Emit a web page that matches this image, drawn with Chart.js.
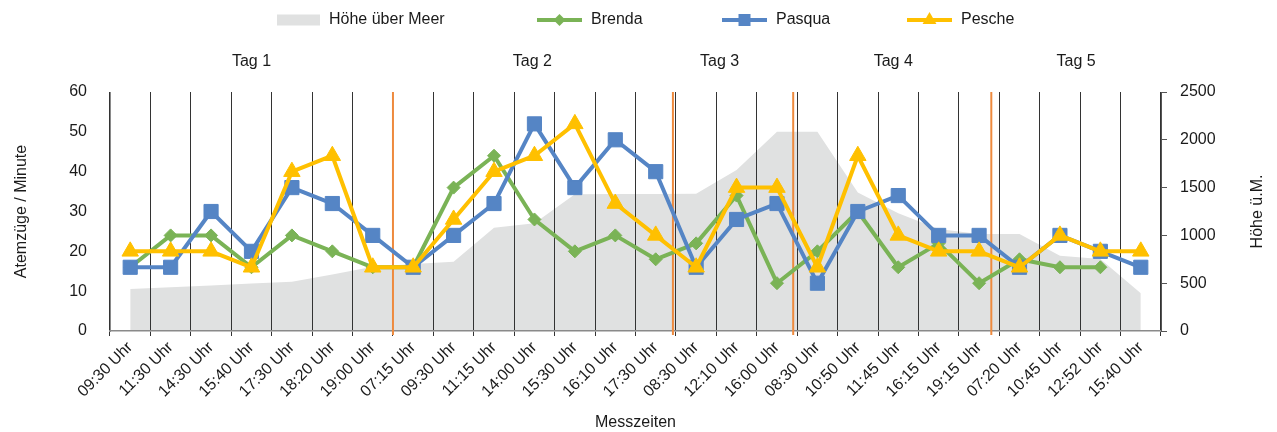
<!DOCTYPE html>
<html>
<head>
<meta charset="utf-8">
<script src="https://cdn.jsdelivr.net/npm/chart.js@4.4.1/dist/chart.umd.min.js"></script>
<style>
html,body{margin:0;padding:0;background:#fff;}
canvas{display:block;}
</style>
</head>
<body>
<canvas id="c" width="1277" height="432"></canvas>
<script>
// ---------- data ----------
const categories = ['09:30 Uhr','11:30 Uhr','14:30 Uhr','15:40 Uhr','17:30 Uhr','18:20 Uhr','19:00 Uhr',
  '07:15 Uhr','09:30 Uhr','11:15 Uhr','14:00 Uhr','15:30 Uhr','16:10 Uhr','17:30 Uhr',
  '08:30 Uhr','12:10 Uhr','16:00 Uhr',
  '08:30 Uhr','10:50 Uhr','11:45 Uhr','16:15 Uhr','19:15 Uhr',
  '07:20 Uhr','10:45 Uhr','12:52 Uhr','15:40 Uhr'];
const hoehe  = [440,458,477,497,515,590,672,700,725,1080,1128,1430,1432,1433,1435,1684,2084,2084,1450,1232,1067,1015,1015,788,752,395];
const brenda = [16,24,24,16,24,20,16,16,36,44,28,20,24,18,22,34,12,20,30,16,22,12,18,16,16,null];
const pasqua = [16,16,30,20,36,32,24,16,24,32,52,36,48,40,16,28,32,12,30,34,24,24,16,24,20,16];
const pesche = [20,20,20,16,40,44,16,16,28,40,44,52,32,24,16,36,36,16,44,24,20,20,16,24,20,20];
const dayNames  = ['Tag 1','Tag 2','Tag 3','Tag 4','Tag 5'];
const dayStarts = [0,7,14,17,22];
const leftTicks  = [0,10,20,30,40,50,60];
const rightTicks = [0,500,1000,1500,2000,2500];
const seriesNames = ['Höhe über Meer','Brenda','Pasqua','Pesche'];

// ---------- styles ----------
const FONT = '"Liberation Sans", Arial, sans-serif';
const TXT = '#1a1a1a';
const C_AREA = '#E0E1E1', C_GREEN = '#7AB356', C_BLUE = '#5585C5', C_YELLOW = '#FFC000', C_ORANGE = '#EE8A3E';

Chart.defaults.font.family = FONT;
Chart.defaults.font.size = 16;
Chart.defaults.color = TXT;

const decor = {
  id: 'decor',
  beforeDatasetsDraw(chart, args, opts) {
    const {ctx, chartArea, scales: {x}} = chart;
    ctx.save();
    ctx.strokeStyle = C_ORANGE;
    ctx.lineWidth = 2;
    for (let d = 1; d < dayStarts.length; d++) {
      const i = dayStarts[d];
      const px = (x.getPixelForValue(i - 1) + x.getPixelForValue(i)) / 2 + opts.lineNudge[d - 1];
      ctx.beginPath();
      ctx.moveTo(px, chartArea.top);
      ctx.lineTo(px, chartArea.bottom + 4);
      ctx.stroke();
    }
    ctx.restore();
  },
  afterDraw(chart, args, opts) {
    const {ctx, chartArea, scales: {x}} = chart;
    ctx.save();
    ctx.fillStyle = TXT;
    ctx.font = '16px ' + FONT;
    ctx.textBaseline = 'middle';
    ctx.textAlign = 'center';
    // day labels
    for (let d = 0; d < dayNames.length; d++) {
      const first = dayStarts[d];
      const last = d + 1 < dayStarts.length ? dayStarts[d + 1] - 1 : categories.length - 1;
      const cx = (x.getPixelForValue(first) + x.getPixelForValue(last)) / 2 + opts.dayNudge[d];
      ctx.fillText(dayNames[d], cx, opts.dayY);
    }
    // right axis title
    ctx.save();
    ctx.translate(opts.rightTitleX, (chartArea.top + chartArea.bottom) / 2);
    ctx.rotate(-Math.PI / 2);
    ctx.fillText('Höhe ü.M.', 0, 0);
    ctx.restore();

    // legend
    const ly = opts.legendY;
    const ds = chart.data.datasets;
    [0, 1, 2, 3].forEach((di, k) => {
      const lx = opts.legendX[k];
      const d = ds[di];
      let w;
      if (di === 0) {
        w = 43;
        ctx.fillStyle = C_AREA;
        ctx.fillRect(lx, ly - 5.5, w, 11);
      } else {
        w = 45;
        ctx.strokeStyle = d.borderColor;
        ctx.lineWidth = 4;
        ctx.beginPath(); ctx.moveTo(lx, ly); ctx.lineTo(lx + w, ly); ctx.stroke();
        const cx = lx + w / 2;
        ctx.fillStyle = d.borderColor;
        ctx.beginPath();
        if (d.pointStyle === 'rectRot') {
          const r = 6;
          ctx.moveTo(cx - r, ly); ctx.lineTo(cx, ly - r); ctx.lineTo(cx + r, ly); ctx.lineTo(cx, ly + r);
        } else if (d.pointStyle === 'rect') {
          const s = 6;
          ctx.rect(cx - s, ly - s, 2 * s, 2 * s);
        } else {
          const r = 8;
          ctx.moveTo(cx, ly - r);
          ctx.lineTo(cx + r * 0.866, ly + r / 2);
          ctx.lineTo(cx - r * 0.866, ly + r / 2);
        }
        ctx.closePath();
        ctx.fill();
      }
      ctx.fillStyle = TXT;
      ctx.textAlign = 'left';
      ctx.fillText(d.label, lx + w + 9, ly);
    });
    ctx.restore();
  }
};

new Chart(document.getElementById('c'), {
  type: 'line',
  data: {
    labels: categories,
    datasets: [
      { label: seriesNames[0], data: hoehe, yAxisID: 'y1', fill: 'origin', backgroundColor: C_AREA,
        borderWidth: 0, pointRadius: 0, order: 4 },
      { label: seriesNames[1], data: brenda, yAxisID: 'y', borderColor: C_GREEN, backgroundColor: C_GREEN,
        borderWidth: 4, pointStyle: 'rectRot', pointRadius: 6.5, pointBorderWidth: 1, fill: false, order: 3 },
      { label: seriesNames[2], data: pasqua, yAxisID: 'y', borderColor: C_BLUE, backgroundColor: C_BLUE,
        borderWidth: 4, pointStyle: 'rect', pointRadius: 10, pointBorderWidth: 1, fill: false, order: 2 },
      { label: seriesNames[3], data: pesche, yAxisID: 'y', borderColor: C_YELLOW, backgroundColor: C_YELLOW,
        borderWidth: 4, pointStyle: 'triangle', pointRadius: 9.5, pointBorderWidth: 1, fill: false, order: 1 }
    ]
  },
  options: {
    responsive: false,
    animation: false,
    events: [],
    layout: { padding: { top: 92, left: 0, right: 0, bottom: 0 } },
    elements: { line: { tension: 0, borderJoinStyle: 'round' } },
    plugins: {
      legend: { display: false },
      tooltip: { enabled: false },
      filler: { drawTime: 'beforeDraw' },
      decor: {
        lineNudge: [0, -3, -4, -8],
        dayNudge: [0, -2, -17, -5, -4],
        dayY: 62,
        legendY: 20,
        legendX: [277, 537, 722, 907],
        rightTitleX: 1258
      }
    },
    scales: {
      x: {
        type: 'category',
        offset: true,
        afterFit(s) { s.height = 101; },
        grid: { offset: true, display: true, drawOnChartArea: true, drawTicks: true, tickLength: 5,
                color: '#333', lineWidth: 1 },
        border: { display: true, color: '#8a8a8a', width: 1.5 },
        ticks: { autoSkip: false, maxRotation: 45, minRotation: 45, padding: 2, color: TXT, font: { size: 16 } },
        title: { display: true, text: 'Messzeiten', padding: { top: 0, bottom: 0 }, color: TXT, font: { size: 16 } }
      },
      y: {
        position: 'left',
        min: 0, max: 60,
        afterFit(s) { s.width = 110; },
        afterBuildTicks(s) { s.ticks = leftTicks.map(v => ({ value: v })); },
        grid: { display: false, drawTicks: false },
        border: { display: true, color: '#8a8a8a', width: 1 },
        ticks: { padding: 23, color: TXT, font: { size: 16 }, callback: v => String(v) },
        title: { display: true, text: 'Atemzüge / Minute', padding: { top: 12, bottom: 0 }, color: TXT, font: { size: 16 } }
      },
      y1: {
        position: 'right',
        min: 0, max: 2500,
        afterFit(s) { s.width = 116; },
        afterBuildTicks(s) { s.ticks = rightTicks.map(v => ({ value: v })); },
        grid: { display: true, drawOnChartArea: false, drawTicks: true, tickLength: 6, color: '#555' },
        border: { display: true, color: '#555', width: 1 },
        ticks: { padding: 13, color: TXT, font: { size: 16 }, callback: v => String(v) }
      }
    }
  },
  plugins: [decor]
});
</script>
</body>
</html>
